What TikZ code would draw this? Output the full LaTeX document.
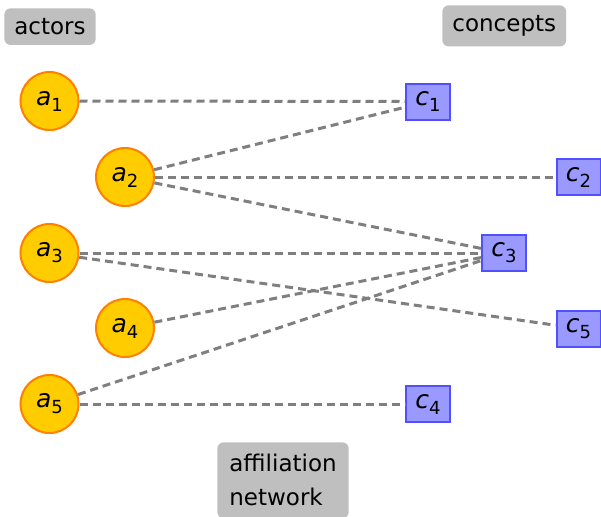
\documentclass[tikz,border=0pt]{standalone}
\usepackage{fontspec}
\setmainfont{DejaVu Sans}
\definecolor{actorfill}{HTML}{FFCC00}
\definecolor{actorline}{HTML}{FF8000}
\definecolor{conceptfill}{HTML}{9999FF}
\definecolor{conceptline}{HTML}{5050FF}
\definecolor{tagfill}{HTML}{BFBFBF}
\definecolor{linkgray}{HTML}{7F7F7F}
% italic letter with a lowered index
\newcommand\lbl[2]{{\fontsize{12.5}{14}\selectfont\itshape #1}\raisebox{-3pt}{\fontsize{9}{10}\selectfont #2}}
\begin{document}
\begin{tikzpicture}[x=0.5pt,y=-0.5pt,
  font=\fontsize{11.5}{17}\selectfont,
  actor/.style={circle, fill=actorfill, draw=actorline, line width=1pt,
    minimum size=29pt, inner sep=0pt},
  concept/.style={rectangle, fill=conceptfill, draw=conceptline, line width=1pt,
    minimum width=22pt, minimum height=18pt, inner sep=0pt},
  tag/.style={fill=tagfill, rounded corners=3pt, inner sep=5pt, anchor=north west},
  link/.style={draw=linkgray, line width=1.5pt, dash pattern=on 4pt off 2.5pt}]
\useasboundingbox (0,0) rectangle (601,516);

% headings
\node[tag] (hact) at (4,8) {actors};
\node[tag] (hcon) at (442,5) {concepts};
\node[tag, align=left, inner xsep=6pt, inner ysep=6pt] (hnet) at (217,442) {affiliation\\network};

% actors
\node[actor] (a1) at (49.5,101) {\lbl{a}{1}};
\node[actor] (a2) at (125,177) {\lbl{a}{2}};
\node[actor] (a3) at (49.5,253) {\lbl{a}{3}};
\node[actor] (a4) at (125,328) {\lbl{a}{4}};
\node[actor] (a5) at (49.5,404) {\lbl{a}{5}};

% concepts
\node[concept] (c1) at (428,101.5) {\lbl{c}{1}};
\node[concept] (c2) at (578.5,177) {\lbl{c}{2}};
\node[concept] (c3) at (504,253) {\lbl{c}{3}};
\node[concept] (c5) at (578.5,328.5) {\lbl{c}{5}};
\node[concept] (c4) at (428,404) {\lbl{c}{4}};

% affiliations
\draw[link] (a1) -- (c1);
\draw[link] (a2) -- (c1);
\draw[link] (a2) -- (c2);
\draw[link] (a2) -- (c3);
\draw[link] (a3) -- (c3);
\draw[link] (a3) -- (c5);
\draw[link] (a4) -- (c3);
\draw[link] (a5) -- (c3);
\draw[link] (a5) -- (c4);
\end{tikzpicture}
\end{document}
